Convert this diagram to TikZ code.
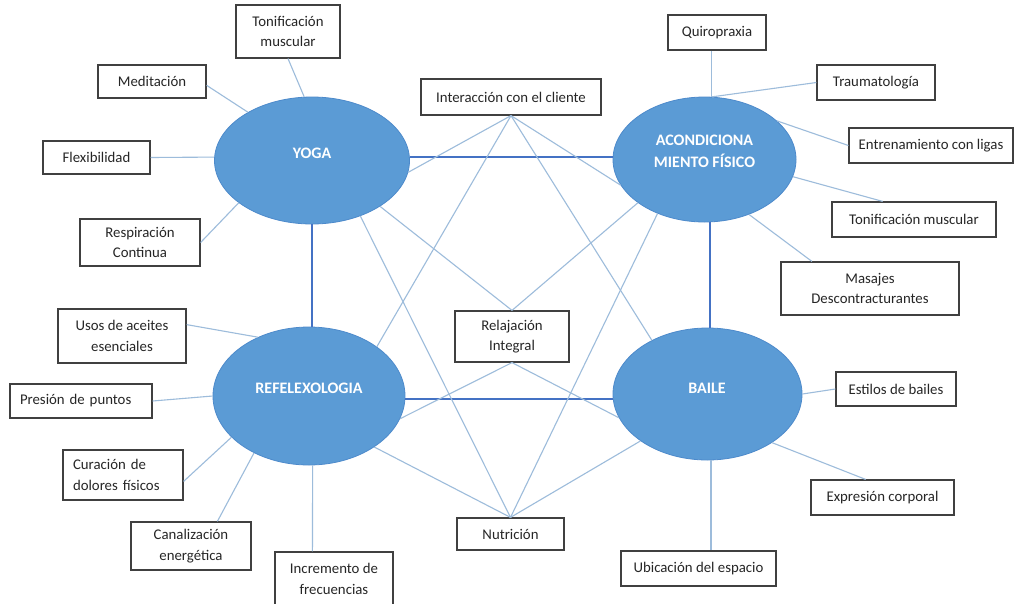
\documentclass[tikz,border=0pt]{standalone}
\usepackage{fontspec}
\setmainfont{Carlito}
\usetikzlibrary{shapes.geometric}
\definecolor{ellfill}{HTML}{5B9BD5}
\definecolor{ellline}{HTML}{4D8ACB}
\definecolor{mainln}{HTML}{4472C4}
\definecolor{subln}{HTML}{9DBCDB}
\definecolor{boxln}{HTML}{404040}
\definecolor{txt}{HTML}{262626}

\begin{document}
\begin{tikzpicture}[x=1pt,y=-1pt,
  hub/.style={ellipse,fill=ellfill,draw=ellline,line width=0.8pt,inner sep=0pt},
  hubtext/.style={text=white,font=\fontsize{16}{21.5}\selectfont\bfseries,align=center,inner sep=0pt},
  item/.style={draw=boxln,line width=1.2pt,fill=white,text=txt,
    font=\fontsize{14.8}{20.5}\selectfont,align=center,inner sep=0pt},
  link/.style={draw=subln,line width=1.1pt},
  bond/.style={draw=mainln,line width=2pt},
]
\useasboundingbox (0,0) rectangle (1019,603);
\fill[white] (0,0) rectangle (1019,603);

% central topics
\node[hub,minimum width=195pt,minimum height=127pt] (yoga)  at (312,160.5) {};
\node[hub,minimum width=183pt,minimum height=125pt] (acond) at (704.5,159.5) {};
\node[hub,minimum width=192pt,minimum height=138pt] (refl)  at (309,396) {};
\node[hub,minimum width=189pt,minimum height=132pt] (baile) at (707.5,394) {};

\node[hubtext] (yogat)  at (312,153.5) {YOGA};
\node[hubtext] (acondt) at (704.5,151.5) {ACONDICIONA\\MIENTO FÍSICO};
\node[hubtext] (reflt)  at (309,388.5) {REFELEXOLOGIA};
\node[hubtext] (bailet) at (707,388.5) {BAILE};

% boxes around YOGA
\node[item,minimum width=104pt,minimum height=53pt] (tonY) at (288,31.5) {Tonificación\\muscular};
\node[item,minimum width=108pt,minimum height=33pt] (med)  at (152,81.5) {Meditación};
\node[item,minimum width=107pt,minimum height=33pt] (flex) at (96.5,157.5) {Flexibilidad};
\node[item,minimum width=120pt,minimum height=47pt] (resp) at (140,242.5) {Respiración\\Continua};

% shared boxes in the middle
\node[item,minimum width=180pt,minimum height=36pt] (inter) at (511,97) {Interacción con el cliente};
\node[item,minimum width=114pt,minimum height=51pt] (relaj) at (512,336.5) {Relajación\\Integral};
\node[item,minimum width=107pt,minimum height=32pt] (nutri) at (510.5,534) {Nutrición};

% boxes around ACONDICIONAMIENTO
\node[item,minimum width=98pt,minimum height=35pt]  (quiro)   at (717,32.5) {Quiropraxia};
\node[item,minimum width=118pt,minimum height=35pt] (trauma)  at (876,82.5) {Traumatología};
\node[item,minimum width=164pt,minimum height=35pt] (entren)  at (931,145.5) {Entrenamiento con ligas};
\node[item,minimum width=164pt,minimum height=35pt] (tonA)    at (914,219.5) {Tonificación muscular};
\node[item,minimum width=178pt,minimum height=53pt] (masajes) at (870,288.5) {Masajes\\Descontracturantes};

% boxes around REFELEXOLOGIA
\node[item,minimum width=128pt,minimum height=54pt] (usos)    at (122,336) {Usos de aceites\\esenciales};
\node[item,minimum width=142pt,minimum height=34pt,text width=122pt,align=left] (presion) at (81,401) {Presión de puntos};
\node[item,minimum width=120pt,minimum height=50pt,text width=100pt,align=left] (curacion) at (123,475) {Curación de\\dolores físicos};
\node[item,minimum width=120pt,minimum height=48pt] (canal)   at (191,546) {Canalización\\energética};
\node[item,minimum width=118pt,minimum height=54pt] (incr)    at (334,579) {Incremento de\\frecuencias};

% boxes around BAILE
\node[item,minimum width=120pt,minimum height=34pt] (estilos) at (896,389) {Estilos de bailes};
\node[item,minimum width=143pt,minimum height=35pt] (expres)  at (882.5,497.5) {Expresión corporal};
\node[item,minimum width=155pt,minimum height=35pt] (ubic)    at (698.5,568.5) {Ubicación del espacio};

% links between the four topics
\draw[bond] (yoga.2) -- (yoga.2 -| acond.west);
\draw[bond] (refl.-2) -- (refl.-2 -| baile.west);
\draw[bond] (yoga.south) -- (yoga.south |- refl.north);
\draw[bond] (acond.-85) -- (acond.-85 |- baile.north);

% YOGA branches
\draw[link] (tonY.south) -- (yoga.97);
\draw[link] (med.-4) -- (yoga.143);
\draw[link] (flex.east) -- (yoga.178);
\draw[link] (resp.east) -- (yoga.210);

% shared branches
\draw[link] (inter.south) -- (yoga.-7);
\draw[link] (inter.south) -- (acond.197);
\draw[link] (inter.south) -- (refl.36);
\draw[link] (inter.south) -- (baile.136);
\draw[link] (relaj.north) -- (yoga.-34);
\draw[link] (relaj.north) -- (acond.213);
\draw[link] (relaj.south) -- (refl.-14);
\draw[link] (relaj.south) -- (baile.195);
\draw[link] (nutri.north) -- (refl.-38);
\draw[link] (nutri.north) -- (yoga.-49);
\draw[link] (nutri.north) -- (acond.229);
\draw[link] (nutri.north) -- (baile.215);

% ACONDICIONAMIENTO branches
\draw[link] (acond.84) -- (acond.84 |- quiro.south);
\draw[link] (trauma.west) -- (acond.83);
\draw[link] (entren.west) -- (acond.28);
\draw[link] (tonA.150) -- (acond.-11);
\draw[link] (masajes.155) -- (acond.-51);

% REFELEXOLOGIA branches
\draw[link] (usos.10) -- (refl.131);
\draw[link] (presion.east) -- (refl.west);
\draw[link] (curacion.-6) -- (refl.208);
\draw[link] (canal.43) -- (refl.226);
\draw[link] (incr.128) -- (refl.-87);

% BAILE branches
\draw[link] (estilos.west) -- (baile.east);
\draw[link] (expres.133) -- (baile.-37);
\draw[link] (baile.-87) -- (baile.-87 |- ubic.north);
\end{tikzpicture}
\end{document}
